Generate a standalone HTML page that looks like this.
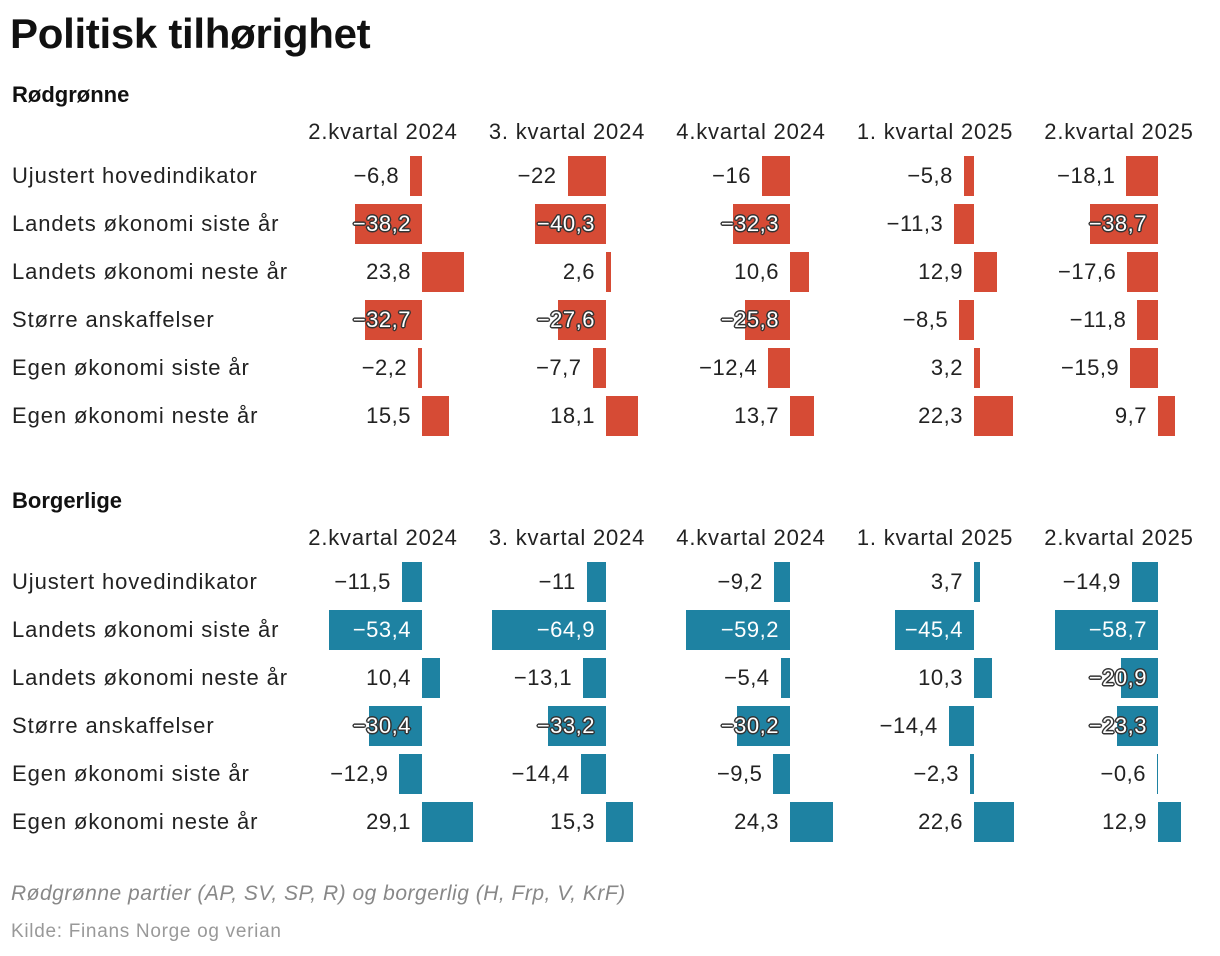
<!DOCTYPE html>
<html><head><meta charset="utf-8"><style>
body{margin:0;width:1220px;height:956px;background:#fff;font-family:"Liberation Sans",Roboto,sans-serif;color:#222;position:relative;overflow:hidden}
.a{position:absolute;white-space:nowrap}
.t{font-size:42px;font-weight:bold;left:10px;top:10px;color:#111;letter-spacing:-0.3px}
.s{font-size:22px;font-weight:bold;left:12px;color:#111}
.h{font-size:22px;width:184px;text-align:center;color:#222;letter-spacing:0.8px}
.r{font-size:22px;left:12px;color:#222;letter-spacing:0.9px}
.v{font-size:22px;text-align:right;width:90px;letter-spacing:0.5px}
.b{position:absolute;height:40px}
.halo{color:#fff;text-shadow:-1.5px 0 #333,1.5px 0 #333,0 -1.5px #333,0 1.5px #333,-1px -1px #333,1px 1px #333,-1px 1px #333,1px -1px #333}
.f1{font-size:21px;font-style:italic;color:#888;left:11px;top:882px;letter-spacing:0.5px}
.f2{font-size:19px;color:#999;left:11px;top:921px;letter-spacing:0.7px}
</style></head><body>
<div class="a t">Politisk tilhørighet</div>
<div class="a f1">Rødgrønne partier (AP, SV, SP, R) og borgerlig (H, Frp, V, KrF)</div>
<div class="a f2">Kilde: Finans Norge og verian</div>
<script>
const periods=["2.kvartal 2024","3. kvartal 2024","4.kvartal 2024","1. kvartal 2025","2.kvartal 2025"];
const rows=["Ujustert hovedindikator","Landets økonomi siste år","Landets økonomi neste år","Større anskaffelser","Egen økonomi siste år","Egen økonomi neste år"];
const rodgronne=[[-6.8,-22,-16,-5.8,-18.1],[-38.2,-40.3,-32.3,-11.3,-38.7],[23.8,2.6,10.6,12.9,-17.6],[-32.7,-27.6,-25.8,-8.5,-11.8],[-2.2,-7.7,-12.4,3.2,-15.9],[15.5,18.1,13.7,22.3,9.7]];
const borgerlige=[[-11.5,-11,-9.2,3.7,-14.9],[-53.4,-64.9,-59.2,-45.4,-58.7],[10.4,-13.1,-5.4,10.3,-20.9],[-30.4,-33.2,-30.2,-14.4,-23.3],[-12.9,-14.4,-9.5,-2.3,-0.6],[29.1,15.3,24.3,22.6,12.9]];
const sections=[{name:"Rødgrønne",data:rodgronne,color:"#d64b35",top:82},{name:"Borgerlige",data:borgerlige,color:"#1e82a2",top:488}];
const scale=1.75;
function zeroX(c){return 422+184*c;}
function fmt(v){return (v<0?"\u2212":"")+Math.abs(v).toString().replace(".",",");}
function add(cls,txt,css,name){const d=document.createElement("div");d.className="a "+cls;d.textContent=txt;Object.assign(d.style,css);


document.body.appendChild(d);return d;}
sections.forEach((s,si)=>{
  add("s",s.name,{top:s.top+"px"},"section-title-"+si);
  periods.forEach((p,c)=>add("h",p,{left:(zeroX(c)-131)+"px",top:(s.top+37)+"px"},"column-header"));
  rows.forEach((r,ri)=>{
    const cy=s.top+94+48*ri;
    add("r",r,{top:(cy-13)+"px"},"row-label");
    s.data[ri].forEach((v,c)=>{
      const z=zeroX(c),w=Math.abs(v)*scale;
      const b=document.createElement("div");b.className="b";
      b.style.left=(v<0?z-w:z)+"px";b.style.width=w+"px";b.style.top=(cy-20)+"px";b.style.background=s.color;
      
      
      document.body.appendChild(b);
      let right,cls="v";
      const inside=v<0&&Math.abs(v)>=20.5&&ri!==0;
      if(inside){right=z-11;cls+=Math.abs(v)>=42?"":" halo";}
      else if(v<0){right=z-w-11;}
      else right=z-11;
      const d=add(cls,fmt(v),{left:(right-90)+"px",top:(cy-13)+"px"},"value-label");
      if(inside&&Math.abs(v)>=42)d.style.color="#fff";
    });
  });
});
</script>
</body></html>
